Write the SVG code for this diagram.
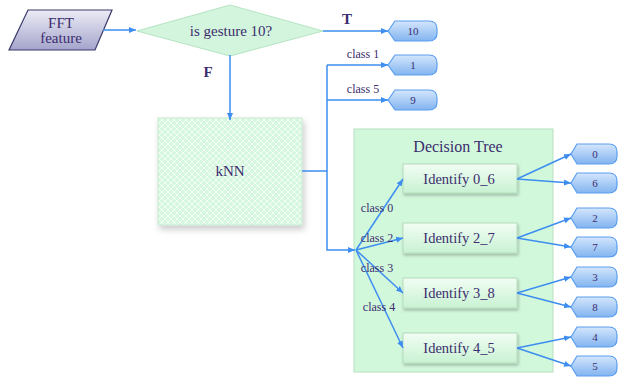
<svg xmlns="http://www.w3.org/2000/svg" width="618" height="380" viewBox="0 0 618 380">
<defs>
<style>
text{fill:#3b2d6e;text-anchor:middle}
.c{fill:none;stroke:#3d8ef0;stroke-width:1.5}
.term{fill:url(#gb);stroke:#5a9ef0;stroke-width:1.2}
.idb{fill:url(#gg);stroke:#b4dcbc;stroke-width:1;filter:url(#sh)}
</style>
<linearGradient id="gb" x1="0" y1="0" x2="0" y2="1"><stop offset="0" stop-color="#d4e6fc"/><stop offset="1" stop-color="#82b4f0"/></linearGradient>
<linearGradient id="gg" x1="0" y1="0" x2="0" y2="1"><stop offset="0" stop-color="#f2fdf4"/><stop offset="1" stop-color="#c8f2d2"/></linearGradient>
<linearGradient id="gp" x1="0" y1="0" x2="0" y2="1"><stop offset="0" stop-color="#ececf6"/><stop offset="1" stop-color="#a4a4cc"/></linearGradient>
<pattern id="hatch" width="6" height="6" patternUnits="userSpaceOnUse">
<rect width="6" height="6" fill="#d6f7df"/>
<path d="M0,0 L6,6 M6,0 L0,6" stroke="#f4fdf6" stroke-width="1"/>
</pattern>
<filter id="sh" x="-10%" y="-10%" width="125%" height="140%"><feDropShadow dx="1" dy="2" stdDeviation="1.5" flood-color="#000" flood-opacity="0.25"/></filter>
<filter id="sh2" x="-10%" y="-10%" width="125%" height="130%"><feDropShadow dx="2" dy="4" stdDeviation="3" flood-color="#000" flood-opacity="0.2"/></filter>
<marker id="ar" markerWidth="8" markerHeight="8" refX="7" refY="4" orient="auto" markerUnits="userSpaceOnUse"><path d="M0,1 L7,4 L0,7 Z" fill="#3d8ef0"/></marker>
</defs>
<rect width="618" height="380" fill="#fff"/>
<g font-family="Liberation Serif, Times New Roman, serif">
<g id="fft">
<polygon points="28,10 112,10 95,50 9,50" fill="url(#gp)" stroke="#3a3a6a" stroke-width="1.2"/>
<text x="61" y="28" font-size="15">FFT</text>
<text x="61" y="43" font-size="15">feature</text>
</g>

<g id="decision">
<polygon points="137,31 230,5 323,31 230,56" fill="#d4f5dd" stroke="#b4e4c2" stroke-width="1"/>
<text x="231" y="36" font-size="15">is gesture 10?</text>
</g>

<g id="knn">
<rect x="158" y="118" width="144" height="107" fill="url(#hatch)" stroke="#c8e8d0" stroke-width="1" filter="url(#sh2)"/>
<text x="230" y="176" font-size="15">kNN</text>
</g>

<g id="term10">
<path class="term" d="M388,31 L395,21 H429 Q437,21 437,29 V33 Q437,41 429,41 H395 Z"/>
<text x="413" y="35" font-size="11">10</text>
</g>
<g id="term1">
<path class="term" d="M388,65 L395,55 H429 Q437,55 437,63 V67 Q437,75 429,75 H395 Z"/>
<text x="413" y="69" font-size="11">1</text>
</g>
<g id="term9">
<path class="term" d="M388,100 L395,90 H429 Q437,90 437,98 V102 Q437,110 429,110 H395 Z"/>
<text x="413" y="104" font-size="11">9</text>
</g>

<g id="dtree">
<rect x="354" y="129" width="199" height="243" fill="#d2f8dc" stroke="#b8e0c0" stroke-width="1"/>
<text x="458" y="152" font-size="16">Decision Tree</text>
</g>

<g id="id06"><rect class="idb" x="403" y="164" width="114" height="29"/><text x="459" y="184" font-size="14.5">Identify 0_6</text></g>
<g id="id27"><rect class="idb" x="403" y="223" width="114" height="30"/><text x="459" y="243" font-size="14.5">Identify 2_7</text></g>
<g id="id38"><rect class="idb" x="403" y="278" width="114" height="30"/><text x="459" y="298" font-size="14.5">Identify 3_8</text></g>
<g id="id45"><rect class="idb" x="403" y="333" width="114" height="30"/><text x="459" y="353" font-size="14.5">Identify 4_5</text></g>

<g id="out0"><path class="term" d="M571,154 L577,144 H609 Q617,144 617,152 V156 Q617,164 609,164 H577 Z"/><text x="595" y="158" font-size="11">0</text></g>
<g id="out6"><path class="term" d="M571,183 L577,173 H609 Q617,173 617,181 V185 Q617,193 609,193 H577 Z"/><text x="595" y="187" font-size="11">6</text></g>
<g id="out2"><path class="term" d="M571,218 L577,208 H609 Q617,208 617,216 V220 Q617,228 609,228 H577 Z"/><text x="595" y="222" font-size="11">2</text></g>
<g id="out7"><path class="term" d="M571,247 L577,237 H609 Q617,237 617,245 V249 Q617,257 609,257 H577 Z"/><text x="595" y="251" font-size="11">7</text></g>
<g id="out3"><path class="term" d="M571,277 L577,267 H609 Q617,267 617,275 V279 Q617,287 609,287 H577 Z"/><text x="595" y="281" font-size="11">3</text></g>
<g id="out8"><path class="term" d="M571,307 L577,297 H609 Q617,297 617,305 V309 Q617,317 609,317 H577 Z"/><text x="595" y="311" font-size="11">8</text></g>
<g id="out4"><path class="term" d="M571,337 L577,327 H609 Q617,327 617,335 V339 Q617,347 609,347 H577 Z"/><text x="595" y="341" font-size="11">4</text></g>
<g id="out5"><path class="term" d="M571,366 L577,356 H609 Q617,356 617,364 V368 Q617,376 609,376 H577 Z"/><text x="595" y="370" font-size="11">5</text></g>

<g id="connectors">
<line class="c" x1="103" y1="30" x2="136" y2="30" marker-end="url(#ar)"/>
<line class="c" x1="323" y1="31" x2="388" y2="31" marker-end="url(#ar)"/>
<line class="c" x1="230" y1="55" x2="230" y2="120" marker-end="url(#ar)"/>
<polyline class="c" points="302,171 327,171"/>
<polyline class="c" points="327,65 327,250 355,250" marker-end="url(#ar)"/>
<line class="c" x1="327" y1="65" x2="388" y2="65" marker-end="url(#ar)"/>
<line class="c" x1="327" y1="100" x2="388" y2="100" marker-end="url(#ar)"/>
<line class="c" x1="356" y1="250" x2="403" y2="179" marker-end="url(#ar)"/>
<line class="c" x1="356" y1="250" x2="403" y2="238" marker-end="url(#ar)"/>
<line class="c" x1="356" y1="250" x2="403" y2="293" marker-end="url(#ar)"/>
<line class="c" x1="356" y1="250" x2="403" y2="348" marker-end="url(#ar)"/>
<line class="c" x1="517" y1="179" x2="571" y2="154" marker-end="url(#ar)"/>
<line class="c" x1="517" y1="179" x2="571" y2="183" marker-end="url(#ar)"/>
<line class="c" x1="517" y1="238" x2="571" y2="218" marker-end="url(#ar)"/>
<line class="c" x1="517" y1="238" x2="571" y2="247" marker-end="url(#ar)"/>
<line class="c" x1="517" y1="293" x2="571" y2="277" marker-end="url(#ar)"/>
<line class="c" x1="517" y1="293" x2="571" y2="307" marker-end="url(#ar)"/>
<line class="c" x1="517" y1="348" x2="571" y2="337" marker-end="url(#ar)"/>
<line class="c" x1="517" y1="348" x2="571" y2="366" marker-end="url(#ar)"/>
<text x="347" y="24" font-size="15" font-weight="bold">T</text>
<text x="208" y="77" font-size="15" font-weight="bold">F</text>
<text x="363" y="58" font-size="12">class 1</text>
<text x="363" y="93" font-size="12">class 5</text>
<text x="377" y="212" font-size="12">class 0</text>
<text x="377" y="242" font-size="12">class 2</text>
<text x="377" y="272" font-size="12">class 3</text>
<text x="379" y="311" font-size="12">class 4</text>
</g>
</g>
</svg>
